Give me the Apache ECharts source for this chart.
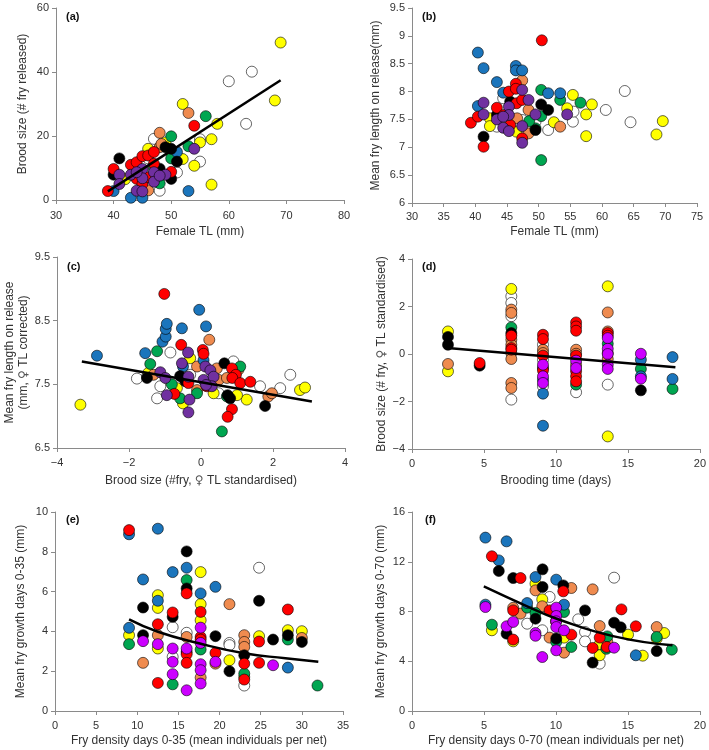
<!DOCTYPE html>
<html><head><meta charset="utf-8">
<script src="https://cdn.jsdelivr.net/npm/echarts@6/dist/echarts.min.js"></script>
<style>html,body{margin:0;padding:0;background:#fff}#c{width:709px;height:750px}</style>
</head><body><div id="c"></div>
<script>
// ---------- DATA ----------
// group keys: W white, Y yellow, O orange, G green, B blue, K black, R red, P purple, M magenta
const panelLabels = ['(a)','(b)','(c)','(d)','(e)','(f)'];
const xTitles = ['Female TL (mm)','Female TL (mm)','Brood size (#fry, {f|\u2640} TL standardised)','Brooding time (days)','Fry density days 0-35 (mean individuals per net)','Fry density days 0-70 (mean individuals per net)'];
const yTitles = ['Brood size (# fry released)','Mean fry length on release(mm)','Mean fry length on release\n(mm, {f|\u2640} TL corrected)','Brood size (# fry, {f|\u2640} TL standardised)','Mean fry growth days 0-35 (mm)','Mean fry growth days 0-70 (mm)'];

const pointsA = {
  W:[[60,37.1],[64,40.1],[63,23.8],[55,19],[55,12],[51,8.6],[48,2.9],[47,19.1],[46,13]],
  Y:[[69,49.2],[68,31.1],[52,30],[58,23.8],[57,19],[55,18],[52,12.8],[54,10.7],[57,4.8],[46,16],[49,18],[50,15],[42,6.5]],
  O:[[53,27.2],[48,21],[48,16.5],[48.3,17.5],[46,3],[45,5.5]],
  G:[[56,26.2],[50,19.9],[53,16.8],[50,13],[48,5.2],[47,10]],
  B:[[53,2.8],[51,15],[43,0.7],[45,0.7],[40,2.8]],
  K:[[41,13],[40,7.9],[49,16.5],[51,12],[50,6.6],[48,9.8],[50,16]],
  R:[[54,23.2],[39,2.8],[40,9.7],[43,11],[44,11.8],[45,13.7],[46,13.9],[47,15],[47,11.3],[50,8.8],[44,6.6],[45,5],[46,7.1]],
  P:[[54,16],[41,7.9],[41,5],[43,7.9],[44,2.9],[45,9.7],[45,6.8],[45,2.7],[47,8.7],[47,5.7],[49,7.9],[48,7.6],[44,8.7]]
};
const trendA = [[39,2.7],[69,37.4]];

const pointsB = {
  W:[[63.6,8.01],[60.6,7.67],[64.5,7.45],[55.4,7.46],[55.5,7.64],[51.5,7.31],[44.4,7.88],[47.4,7.49],[49.5,7.46],[43.4,7.37]],
  Y:[[55.4,7.94],[58.4,7.77],[57.5,7.59],[57.5,7.2],[54.5,7.7],[52.4,7.45],[69.6,7.47],[68.6,7.23],[42.3,7.52],[42.3,7.38],[46.5,7.28]],
  O:[[47.4,8.2],[53.4,7.37],[48.4,7.25],[46.6,7.52],[48.4,7.67]],
  G:[[50.4,8.03],[53.4,7.85],[56.6,7.8],[50.4,6.77],[50.4,7.56],[49.5,7.34],[48.5,7.47]],
  B:[[40.4,8.7],[41.3,8.42],[43.4,8.17],[46.4,8.46],[46.4,8.38],[47.4,8.38],[51.5,7.97],[53.4,7.97],[44.4,7.98],[40.4,7.74]],
  K:[[41.3,7.19],[50.4,7.77],[51.5,7.67],[49.5,7.31],[43.4,7.58],[45.5,7.82]],
  R:[[50.5,8.92],[39.3,7.44],[40.4,7.55],[41.3,7.01],[43.4,7.71],[45.3,8.0],[46.4,8.14],[46.4,8.05],[46.5,7.79],[47.4,7.85],[44.5,7.58],[45.5,7.4],[47.4,7.16]],
  P:[[41.3,7.8],[41.3,7.59],[43.4,7.5],[44.4,7.35],[45.3,7.73],[45.3,7.58],[45.3,7.29],[47.4,8.03],[47.4,7.38],[47.4,7.08],[48.4,7.85],[49.5,7.59],[54.5,7.59],[44.4,7.55]]
};

const pointsC = {
  W:[[-1.78,7.59],[-0.85,8.0],[-1.22,7.28],[-1.13,7.47],[0.9,7.86],[0.49,7.36],[1.64,7.47],[2.2,7.44],[2.48,7.65],[-1.5,7.62],[-0.3,7.65]],
  Y:[[-3.35,7.18],[2.75,7.41],[2.89,7.45],[1.27,7.26],[1.0,7.33],[-0.3,7.91],[-0.5,7.2],[-0.67,7.44],[0.35,7.36],[-1.46,7.68]],
  O:[[0.23,8.2],[-0.11,7.78],[0.44,7.75],[1.04,7.73],[1.87,7.31],[1.97,7.36],[-0.11,7.41],[-1.32,7.65],[0.49,7.57],[0.72,7.6]],
  G:[[-1.22,8.02],[-1.41,7.82],[0.58,6.76],[1.09,7.78],[-0.81,7.5],[-0.58,7.28],[-0.11,7.36],[0.72,7.31]],
  B:[[-2.89,7.95],[-1.55,7.99],[-1.07,8.17],[-0.98,8.25],[-0.98,8.37],[-0.95,8.45],[-0.53,8.38],[-0.05,8.67],[0.14,8.41],[-0.5,7.78],[0.07,7.88]],
  K:[[0.65,7.83],[0.74,7.33],[0.81,7.28],[1.78,7.16],[-0.58,7.63],[-1.5,7.6],[-0.44,7.55]],
  R:[[-1.02,8.92],[-0.55,8.12],[0.05,8.04],[0.07,7.98],[0.86,7.75],[0.97,7.65],[0.87,7.6],[1.09,7.52],[1.37,7.54],[0.86,7.11],[0.74,6.99],[0.16,7.47],[-0.35,7.52],[-0.74,7.35]],
  P:[[-1.13,7.69],[-0.99,7.6],[-0.95,7.33],[-0.36,8.0],[-0.53,7.83],[-0.35,7.62],[-0.32,7.26],[-0.35,7.06],[0.07,7.57],[0.12,7.78],[0.26,7.72],[0.35,7.62],[0.3,7.47],[0.14,7.49]]
};
const trendC = [[-3.31,7.86],[3.08,7.23]];

const pointsD = {
  W:[[6.9,2.43],[6.9,2.15],[6.9,1.59],[6.9,-1.92],[9.1,0.39],[9.1,-0.24],[9.1,-1.36],[11.4,-1.61],[13.6,-1.29]],
  Y:[[2.5,0.95],[2.5,-0.73],[6.9,2.74],[13.6,2.85],[13.6,-3.47]],
  O:[[2.5,-0.42],[6.9,1.87],[6.9,1.73],[6.9,0.6],[6.9,0.39],[6.9,0.04],[6.9,-0.21],[6.9,-1.22],[6.9,-1.43],[9.1,0.18],[9.1,0.04],[11.4,0.18],[11.4,0.01],[11.4,-0.45],[13.6,1.75],[13.6,0.95],[13.6,0.04],[13.6,-0.21]],
  G:[[6.9,1.12],[11.4,-1.29],[13.6,0.43],[15.9,-0.63],[18.1,-1.47]],
  B:[[9.1,-1.08],[9.1,-1.67],[9.1,-3.02],[15.9,-0.24],[15.9,-0.94],[18.1,-0.13],[18.1,-1.05]],
  K:[[2.5,0.72],[2.5,0.39],[4.7,-0.49],[6.9,0.88],[9.1,-0.59],[15.9,-1.53]],
  R:[[4.7,-0.38],[6.9,0.77],[6.9,0.25],[6.9,0.18],[9.1,0.81],[9.1,0.63],[9.1,-0.07],[9.1,-0.69],[11.4,1.33],[11.4,1.16],[11.4,0.98],[11.4,-0.07],[11.4,-0.73],[11.4,-0.94],[11.4,-1.15],[13.6,0.88],[13.6,0.77]],
  M:[[9.1,-0.45],[9.1,-0.94],[9.1,-1.22],[11.4,-0.28],[11.4,-0.59],[13.6,0.67],[13.6,0.22],[13.6,0.0],[13.6,-0.45],[13.6,-0.63],[15.9,0.01],[15.9,-1.04]]
};
const trendD = [[2.47,0.25],[18.3,-0.56]];

const pointsE = {
  W:[[14.3,4.21],[14.3,2.72],[16,3.93],[21.2,3.42],[21.2,3.31],[23,1.28],[24.8,7.2]],
  Y:[[9,3.81],[12.5,5.82],[12.5,5.18],[12.5,3.14],[17.7,6.98],[17.7,5.37],[17.7,4.56],[21.2,2.55],[23,1.71],[24.8,3.76],[28.3,4.06],[30,4.01]],
  O:[[10.7,2.42],[12.5,3.81],[16,3.72],[17.7,1.68],[19.5,2.38],[21.2,5.37],[23,3.81],[23,3.47],[23,3.22],[30,3.67]],
  G:[[9,3.36],[14.3,1.34],[16,6.58],[17.7,3.09],[23,1.88],[28.3,3.59],[31.9,1.28]],
  B:[[9,8.88],[9,4.18],[10.7,6.61],[12.5,9.16],[12.5,5.54],[14.3,6.98],[16,7.2],[17.7,5.91],[19.5,6.24],[28.3,2.18]],
  K:[[10.7,5.2],[10.7,3.81],[14.3,4.73],[16,8.02],[16,6.16],[16,2.97],[19.5,3.76],[21.2,2.0],[23,2.8],[24.8,5.54],[26.5,3.59],[28.3,3.81],[30,3.47]],
  R:[[9,9.09],[12.5,4.36],[12.5,1.41],[14.3,4.95],[16,5.91],[16,2.85],[16,2.42],[17.7,4.98],[17.7,3.72],[17.7,3.59],[19.5,2.92],[23,2.38],[23,1.58],[24.8,3.49],[24.8,2.42],[28.3,5.1]],
  M:[[10.7,3.51],[12.5,3.36],[14.3,3.14],[14.3,2.47],[14.3,1.85],[16,3.14],[16,1.04],[17.7,4.19],[17.7,3.42],[17.7,2.35],[17.7,2.05],[17.7,1.38],[19.5,2.47],[26.5,2.3]]
};
const trendE = [[9,4.6],[12.5,3.98],[17.6,3.39],[23,2.9],[28,2.65],[32,2.47]];

const pointsF = {
  W:[[14.04,10.72],[9.56,9.17],[11.55,7.37],[8.0,7.02],[9.05,6.49],[12.02,6.35],[12.02,5.6],[13.04,3.81]],
  Y:[[8.58,10.24],[9.05,8.98],[5.55,6.49],[7.03,5.6],[10.56,5.9],[13.04,5.36],[13.04,4.48],[16.03,4.45],[15.01,6.14],[17.52,6.27],[17.0,5.82]],
  O:[[8.58,9.7],[11.07,9.89],[12.55,9.78],[9.05,8.42],[7.54,7.83],[9.56,5.9],[10.56,4.69],[13.04,6.83],[13.57,5.55],[17.0,6.75],[7.03,8.3]],
  G:[[8.0,8.31],[10.56,7.96],[8.58,7.88],[5.55,6.94],[10.02,5.55],[11.07,5.15],[13.57,6.0],[18.05,4.93],[17.0,5.95],[13.5,5.0]],
  B:[[5.1,13.94],[6.57,13.64],[6.03,12.11],[8.58,10.77],[10.02,10.56],[8.0,8.68],[10.56,8.55],[5.1,8.55],[15.55,4.48]],
  K:[[6.03,11.26],[7.03,10.69],[9.07,11.39],[9.07,9.97],[10.51,10.1],[12.02,8.09],[8.58,7.42],[6.57,6.22],[10.02,5.82],[12.55,3.89],[14.04,7.1],[14.5,6.73],[17.0,4.82]],
  R:[[5.55,12.44],[7.54,10.69],[10.51,9.62],[9.56,8.09],[14.55,8.17],[7.03,8.09],[7.03,5.74],[11.07,6.14],[12.55,5.07],[13.04,5.9],[13.53,5.15],[15.55,6.81],[10.0,7.2]],
  M:[[10.02,8.31],[5.1,8.36],[10.02,7.64],[6.57,6.81],[7.03,7.16],[8.58,6.27],[8.58,6.05],[10.02,7.21],[10.02,6.75],[10.56,6.49],[10.02,4.88],[9.05,4.34],[14.04,5.09]]
};
const trendF = [[4.99,10.02],[8,8.42],[10.05,7.42],[14.04,6.0],[18.1,5.28]];

const xAxisRanges = [[30,80,10],[30,75,5],[-4,4,2],[0,20,5],[0,35,5],[0,20,5]];
const yAxisRanges = [[0,60,20],[6,9.5,0.5],[6.5,9.5,1],[-4,4,2],[0,10,2],[0,16,4]];

// ---------- STYLE / LAYOUT ----------
const palette = {W:'#ffffff',Y:'#ffff00',O:'#ef8b4f',G:'#00a651',B:'#1b75bc',K:'#000000',R:'#ff0000',P:'#7030a0',M:'#cc00ff'};
const drawOrder = ['W','Y','O','G','B','K','R','P','M'];
const grids = [
  {left:56,top:8,width:288,height:192},
  {left:412,top:8,width:285,height:195},
  {left:57,top:257,width:288,height:191},
  {left:412,top:259,width:292,height:190},
  {left:55,top:512,width:288,height:199},
  {left:412,top:512,width:288,height:199}
];
const yNameGaps = [26,29,18,23,27,24];
const xNameGaps = [26,23,27,26,24,24];
const xLabelMargins = [10,8,9,9,9,9];
const labelPos = [[61,6],[417,6],[62,256],[417,256],[61,509],[420,509]];
const allPoints = [pointsA,pointsB,pointsC,pointsD,pointsE,pointsF];
const trends = [trendA,null,trendC,trendD,trendE,trendF];

const FONT = '"Liberation Sans", Arial, sans-serif';
const axisColor = '#8a8a8a';
const minusFmt = v => String(v).replace('-', '\u2212');
const femaleRich = {f:{fontFamily:'"DejaVu Sans", sans-serif',fontSize:12,color:'#555'}};

const option = {
  animation:false,
  backgroundColor:'#fff',
  textStyle:{fontFamily:FONT},
  title: panelLabels.map((t,i)=>({text:t,left:labelPos[i][0],top:labelPos[i][1],textStyle:{fontSize:11,fontWeight:'bold',color:'#111',fontFamily:FONT}})),
  grid: grids,
  xAxis: xAxisRanges.map((r,i)=>({
    type:'value', gridIndex:i, min:r[0], max:r[1], interval:r[2],
    name:xTitles[i], nameLocation:'middle', nameGap:xNameGaps[i],
    nameTextStyle:{fontSize:12,color:'#333',fontFamily:FONT,rich:femaleRich},
    axisLine:{onZero:false,lineStyle:{color:axisColor,width:1}},
    axisTick:{show:true,length:4,lineStyle:{color:axisColor}},
    axisLabel:{fontSize:11,color:'#333',margin:xLabelMargins[i],formatter:minusFmt,fontFamily:FONT},
    splitLine:{show:false}
  })),
  yAxis: yAxisRanges.map((r,i)=>({
    type:'value', gridIndex:i, min:r[0], max:r[1], interval:r[2],
    name:yTitles[i], nameLocation:'middle', nameGap:yNameGaps[i], nameRotate:90,
    nameTextStyle:{fontSize:12,color:'#333',fontFamily:FONT,lineHeight:14,rich:femaleRich},
    axisLine:{onZero:false,lineStyle:{color:axisColor,width:1}},
    axisTick:{show:true,length:4,lineStyle:{color:axisColor}},
    axisLabel:{fontSize:11,color:'#333',margin:7,formatter:minusFmt,fontFamily:FONT},
    splitLine:{show:false}
  })),
  series:[]
};

allPoints.forEach((pts,i)=>{
  drawOrder.forEach(g=>{
    if(!pts[g]) return;
    option.series.push({
      type:'scatter', xAxisIndex:i, yAxisIndex:i, data:pts[g],
      symbol:'circle', symbolSize:11,
      itemStyle:{color:palette[g],borderColor:'#000',borderWidth:0.6,opacity:1},
      emphasis:{disabled:true}
    });
  });
  if(trends[i]){
    option.series.push({
      type:'line', xAxisIndex:i, yAxisIndex:i, data:trends[i],
      showSymbol:false, symbol:'none', smooth:trends[i].length>2,
      lineStyle:{color:'#000',width:2.5}, z:5
    });
  }
});

const chart = echarts.init(document.getElementById('c'), null, {renderer:'canvas'});
chart.setOption(option);
</script></body></html>
